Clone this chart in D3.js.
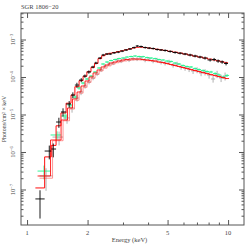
<!DOCTYPE html>
<html><head><meta charset="utf-8">
<script src="https://cdn.jsdelivr.net/npm/d3@7"></script>
<style>body{margin:0;background:#fff}svg{display:block}</style></head>
<body>
<script>
const title = "SGR 1806\u221220";
const xLabel = "Energy (keV)";
const yLabel = "Photons/cm\u00B2 \u00D7 keV";
const xMajorTicks = [1, 2, 5, 10];
const xMinorTicks = [3, 4, 6, 7, 8, 9];
const yMajorExps = [-3, -4, -5, -6, -7];

// black data (upper spectrum)
const blackE = [1.16,1.29,1.35,1.44,1.51,1.62,1.69,1.77,1.86,1.94,2.03,2.13,2.20,2.31,2.39,2.50,2.59,2.71,2.84,2.97,3.11,3.25,3.41,3.53,3.69,3.87,4.05,4.24,4.44,4.64,4.86,5.15,5.45,5.77,6.11,6.47,6.85,7.25,7.68,8.14,8.52,8.92,9.34,9.77];
const blackF = [5.6e-8,1.06e-6,1.2e-6,6.3e-6,1.17e-5,1.9e-5,3.3e-5,6.1e-5,8.3e-5,1.06e-4,1.36e-4,1.85e-4,2.36e-4,3.2e-4,3.86e-4,4.1e-4,4.1e-4,4.4e-4,4.6e-4,4.9e-4,5.25e-4,5.6e-4,6.1e-4,6.7e-4,6.5e-4,6.1e-4,5.9e-4,5.75e-4,5.4e-4,5.25e-4,5.1e-4,4.8e-4,4.5e-4,4.3e-4,4.1e-4,3.86e-4,3.63e-4,3.41e-4,3.2e-4,2.84e-4,2.93e-4,2.67e-4,2.51e-4,2.29e-4];
const blackErr = [0.7,0.4,0.4,0.3,0.25,0.2,0.18,0.15,0.12,0.1,0.1,0.08,0.08,0.07,0.07,0.06,0.06,0.06,0.06,0.06,0.06,0.06,0.06,0.06,0.06,0.06,0.06,0.06,0.06,0.06,0.07,0.07,0.07,0.07,0.07,0.08,0.08,0.08,0.09,0.09,0.1,0.1,0.1,0.11];
const blackModel = [1.1e-7,7.4e-7,1.5e-6,5.0e-6,1.1e-5,2.0e-5,3.3e-5,5.5e-5,8.0e-5,1.05e-4,1.38e-4,1.8e-4,2.3e-4,3.1e-4,3.7e-4,4.1e-4,4.3e-4,4.5e-4,4.75e-4,5.0e-4,5.3e-4,5.6e-4,5.95e-4,6.2e-4,6.25e-4,6.1e-4,5.9e-4,5.7e-4,5.5e-4,5.3e-4,5.1e-4,4.85e-4,4.6e-4,4.35e-4,4.1e-4,3.85e-4,3.6e-4,3.4e-4,3.2e-4,3.0e-4,2.85e-4,2.7e-4,2.55e-4,2.4e-4];

// green data
const greenE = [1.215,1.410,1.546,1.636,1.733,1.814,1.899,1.988,2.082,2.179,2.282,2.388,2.500,2.618,2.741,2.869,3.004,3.145,3.292,3.447,3.608,3.778,3.955,4.140,4.335,4.538,4.751,4.973,5.207,5.449,5.705,5.972,6.252,6.545,6.851,7.173,7.509,7.861,8.229,8.615,9.019,9.443,9.886];
const greenF = [3.1e-7,2.84e-6,9.1e-6,1.79e-5,2.93e-5,5.1e-5,6.9e-5,8.85e-5,1.06e-4,1.36e-4,1.74e-4,2.22e-4,2.51e-4,2.75e-4,2.93e-4,3.11e-4,3.21e-4,3.41e-4,3.52e-4,3.63e-4,3.52e-4,3.5e-4,3.31e-4,3.21e-4,3.11e-4,2.93e-4,2.84e-4,2.67e-4,2.6e-4,2.36e-4,2.22e-4,2.03e-4,1.9e-4,1.85e-4,1.69e-4,1.58e-4,1.49e-4,1.40e-4,1.36e-4,1.24e-4,1.13e-4,1.0e-4,1.1e-4];
const greenErr = [0.4,0.25,0.2,0.15,0.12,0.1,0.08,0.07,0.06,0.05,0.05,0.05,0.05,0.05,0.05,0.05,0.05,0.05,0.05,0.05,0.05,0.05,0.05,0.05,0.05,0.05,0.05,0.05,0.05,0.06,0.06,0.06,0.06,0.06,0.06,0.07,0.07,0.07,0.07,0.08,0.08,0.08,0.08];
const greenModel = [2.29e-7,2.09e-6,7.13e-6,1.49e-5,2.59e-5,3.98e-5,5.75e-5,7.82e-5,1.0e-4,1.28e-4,1.54e-4,1.85e-4,2.09e-4,2.36e-4,2.51e-4,2.67e-4,2.84e-4,2.93e-4,3.02e-4,3.02e-4,3.02e-4,2.93e-4,2.84e-4,2.75e-4,2.67e-4,2.51e-4,2.44e-4,2.29e-4,2.15e-4,2.03e-4,1.91e-4,1.79e-4,1.69e-4,1.58e-4,1.49e-4,1.40e-4,1.32e-4,1.24e-4,1.17e-4,1.10e-4,1.03e-4,9.7e-5,9.1e-5];

// gray data
const grayE = [1.243,1.443,1.581,1.674,1.773,1.856,1.944,2.034,2.130,2.230,2.335,2.444,2.559,2.679,2.804,2.936,3.073,3.217,3.368,3.526,3.692,3.865,4.046,4.236,4.435,4.642,4.860,5.088,5.326,5.576,5.837,6.110,6.397,6.697,7.011,7.339,7.681,8.044,8.421,8.816,9.230,9.663];
const grayF = [2.3e-7,2.5e-6,8.1e-6,1.49e-5,2.75e-5,4.0e-5,5.75e-5,7.4e-5,9.4e-5,1.2e-4,1.54e-4,1.96e-4,2.22e-4,2.36e-4,2.84e-4,2.67e-4,3.02e-4,2.84e-4,3.11e-4,3.02e-4,3.21e-4,2.84e-4,3.02e-4,2.67e-4,2.84e-4,2.51e-4,2.36e-4,2.51e-4,2.09e-4,2.22e-4,1.85e-4,1.74e-4,1.63e-4,1.45e-4,1.54e-4,1.28e-4,1.36e-4,1.13e-4,8.85e-5,1.2e-4,9.4e-5,1.06e-4];
const grayErr = [0.6,0.4,0.3,0.25,0.2,0.18,0.15,0.14,0.13,0.12,0.12,0.12,0.12,0.12,0.12,0.12,0.12,0.12,0.12,0.12,0.13,0.13,0.13,0.13,0.14,0.14,0.14,0.15,0.15,0.15,0.16,0.16,0.17,0.17,0.18,0.18,0.19,0.2,0.2,0.22,0.22,0.24];
const grayModel = [2.0e-7,2.0e-6,6.8e-6,1.4e-5,2.4e-5,3.7e-5,5.3e-5,7.2e-5,9.3e-5,1.18e-4,1.45e-4,1.72e-4,1.98e-4,2.2e-4,2.4e-4,2.55e-4,2.68e-4,2.78e-4,2.85e-4,2.88e-4,2.86e-4,2.8e-4,2.72e-4,2.63e-4,2.54e-4,2.42e-4,2.3e-4,2.18e-4,2.06e-4,1.94e-4,1.83e-4,1.72e-4,1.61e-4,1.51e-4,1.42e-4,1.33e-4,1.25e-4,1.17e-4,1.1e-4,1.03e-4,9.7e-5,9.1e-5];

const W = 245, H = 245;
const L = 21, R = 244, T = 13, B = 225;
const FONT = "'Liberation Serif', 'DejaVu Serif', serif";

const svg = d3.select("body").append("svg").attr("width", W).attr("height", H);
const x = d3.scaleLog().domain([0.933, 12.0]).range([L, R]);
const y = d3.scaleLog().domain([1.13e-8, 5.09e-3]).range([B, T]);

function edges(E) {
  const n = E.length;
  return E.map((e, i) => {
    const lo = i > 0 ? Math.sqrt(E[i-1]*e) : e*Math.sqrt(e/E[1]);
    const hi = i < n-1 ? Math.sqrt(E[i+1]*e) : e*Math.sqrt(e/E[n-2]);
    return [lo, hi];
  });
}

svg.append("clipPath").attr("id","c").append("rect")
  .attr("x", L).attr("y", T).attr("width", R-L).attr("height", B-T);
const plot = svg.append("g").attr("clip-path","url(#c)");

function drawData(E, F, Er, color, width) {
  const ed = edges(E);
  const g = plot.append("g").attr("stroke", color).attr("stroke-width", width);
  E.forEach((e, i) => {
    g.append("line").attr("x1", x(ed[i][0])).attr("x2", x(ed[i][1]))
      .attr("y1", y(F[i])).attr("y2", y(F[i]));
    g.append("line").attr("x1", x(e)).attr("x2", x(e))
      .attr("y1", y(F[i]*(1-Er[i]))).attr("y2", y(F[i]*(1+Er[i])));
  });
}
function drawModel(E, M, color, width, op) {
  const ed = edges(E);
  const pts = [];
  E.forEach((e, i) => { pts.push([ed[i][0], M[i]]); pts.push([ed[i][1], M[i]]); });
  plot.append("path").attr("d", d3.line().x(d => x(d[0])).y(d => y(d[1]))(pts))
    .attr("fill","none").attr("stroke", color).attr("stroke-width", width).attr("stroke-opacity", op);
}

drawData(grayE, grayF, grayErr, "#a8a8a8", 0.9);
drawData(greenE, greenF, greenErr, "#1ef58c", 0.9);
drawModel(grayE, grayModel, "#ff4444", 1, 0.55);
drawModel(greenE, greenModel, "#ff0000", 1, 0.85);
drawModel(blackE, blackModel, "#ff0000", 1, 0.95);
drawData(blackE, blackF, blackErr, "#000000", 0.9);

// frame and ticks
const axisColor = "#555";
svg.append("rect").attr("x", L).attr("y", T).attr("width", R-L).attr("height", B-T)
  .attr("fill","none").attr("stroke", axisColor).attr("stroke-width", 1);

function styleAxis(g){ g.select(".domain").remove(); g.selectAll("line").attr("stroke", axisColor); }
const yMinor = [];
for (let d = -8; d <= -3; d++) for (let m = 2; m <= 9; m++) {
  const v = m*Math.pow(10, d);
  if (v > y.domain()[0] && v < y.domain()[1]) yMinor.push(v);
}
const yMajor = yMajorExps.map(p => Math.pow(10, p));

svg.append("g").attr("transform",`translate(${L},0)`)
  .call(d3.axisRight(y).tickValues(yMajor).tickSize(5).tickFormat("")).call(styleAxis);
svg.append("g").attr("transform",`translate(${L},0)`)
  .call(d3.axisRight(y).tickValues(yMinor).tickSize(2.5).tickFormat("")).call(styleAxis);
svg.append("g").attr("transform",`translate(${R},0)`)
  .call(d3.axisLeft(y).tickValues(yMajor).tickSize(5).tickFormat("")).call(styleAxis);
svg.append("g").attr("transform",`translate(${R},0)`)
  .call(d3.axisLeft(y).tickValues(yMinor).tickSize(2.5).tickFormat("")).call(styleAxis);
svg.append("g").attr("transform",`translate(0,${B})`)
  .call(d3.axisTop(x).tickValues(xMajorTicks).tickSize(5).tickFormat("")).call(styleAxis);
svg.append("g").attr("transform",`translate(0,${B})`)
  .call(d3.axisTop(x).tickValues(xMinorTicks).tickSize(2.5).tickFormat("")).call(styleAxis);
svg.append("g").attr("transform",`translate(0,${T})`)
  .call(d3.axisBottom(x).tickValues(xMajorTicks).tickSize(5).tickFormat("")).call(styleAxis);
svg.append("g").attr("transform",`translate(0,${T})`)
  .call(d3.axisBottom(x).tickValues(xMinorTicks).tickSize(2.5).tickFormat("")).call(styleAxis);

// x tick labels
svg.append("g").selectAll("text").data(xMajorTicks).join("text")
  .attr("x", d => x(d)).attr("y", B + 9.5).attr("text-anchor","middle")
  .attr("font-family", FONT).attr("font-size", 6.5).attr("fill","#444").text(d => d);

// y tick labels (rotated)
yMajorExps.forEach(p => {
  const t = svg.append("text").attr("transform", `translate(15,${y(Math.pow(10,p))}) rotate(-90)`)
    .attr("text-anchor","middle").attr("font-family", FONT).attr("font-size", 6.5).attr("fill","#444");
  t.append("tspan").text("10");
  t.append("tspan").attr("dy", -2.5).attr("font-size", 4.5).text("\u2212" + Math.abs(p));
});

// axis titles
svg.append("text").attr("x", (x(1)+x(10))/2 + 2).attr("y", 242).attr("text-anchor","middle")
  .attr("font-family", FONT).attr("font-size", 6.5).attr("fill","#444").text(xLabel);
svg.append("text").attr("transform", `translate(6,${(T+B)/2}) rotate(-90)`).attr("text-anchor","middle")
  .attr("font-family", FONT).attr("font-size", 6).attr("fill","#444").text(yLabel);
svg.append("text").attr("x", L).attr("y", 9).attr("font-family", FONT).attr("font-size", 6.5)
  .attr("fill","#444").text(title);
</script>
</body></html>
